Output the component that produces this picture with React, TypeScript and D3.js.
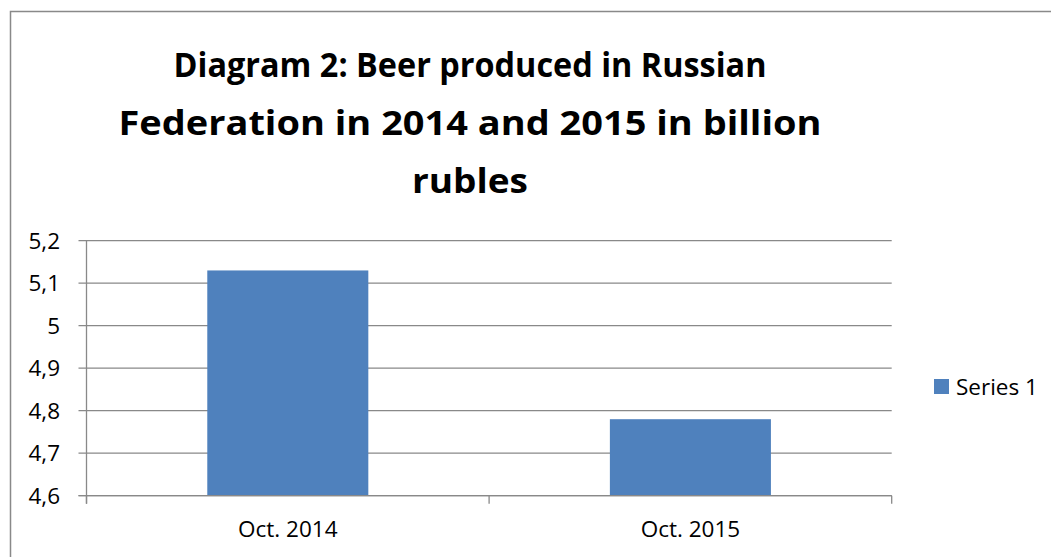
import React, { useEffect, useRef } from 'react';
import * as d3 from 'd3';

const categories = ['Oct. 2014', 'Oct. 2015'];
const values = [5.13, 4.78];
const yTicks = [4.6, 4.7, 4.8, 4.9, 5.0, 5.1, 5.2];
const titleLines = [
    'Diagram 2: Beer produced in Russian',
    'Federation in 2014 and 2015 in billion',
    'rubles'
];
const seriesName = 'Series 1';

const W = 1051;
const H = 557;

const App = () => {
    const ref = useRef<SVGSVGElement>(null);

    useEffect(() => {
        const svg = d3.select(ref.current);
        svg.selectAll('*').remove();

        const font = '"Open Sans", sans-serif';
        const grey = '#898989';

        // outer chart border (runs off the right and bottom edge)
        svg.append('rect')
            .attr('x', 10.5)
            .attr('y', 11.5)
            .attr('width', W + 20)
            .attr('height', H + 20)
            .attr('fill', 'none')
            .attr('stroke', grey)
            .attr('stroke-width', 1.5);

        // title
        const titleWidths = [593, 703, 116];
        svg.append('g')
            .selectAll('text')
            .data(titleLines)
            .enter().append('text')
            .attr('x', 470)
            .attr('y', (d, i) => 77 + i * 58)
            .attr('text-anchor', 'middle')
            .attr('font-family', font)
            .attr('font-weight', 'bold')
            .attr('font-size', 34)
            .attr('textLength', (d, i) => titleWidths[i])
            .attr('lengthAdjust', 'spacingAndGlyphs')
            .attr('fill', '#000')
            .text(d => d);

        const left = 86.5, right = 891.7, top = 240.7, bottom = 495.7;

        const x = d3.scaleBand()
            .domain(categories)
            .range([left, right])
            .paddingInner(0.6)
            .paddingOuter(0.3);

        const y = d3.scaleLinear()
            .domain([4.6, 5.2])
            .range([bottom, top]);

        const fmt = (v: number) => (Math.round(v * 10) / 10).toString().replace('.', ',');

        // gridlines + y ticks
        svg.append('g')
            .selectAll('line')
            .data(yTicks)
            .enter().append('line')
            .attr('x1', left - 8)
            .attr('x2', right)
            .attr('y1', d => y(d))
            .attr('y2', d => y(d))
            .attr('stroke', grey)
            .attr('stroke-width', 1.3);

        svg.append('g')
            .selectAll('text')
            .data(yTicks)
            .enter().append('text')
            .attr('x', 60)
            .attr('y', d => y(d) + 8)
            .attr('text-anchor', 'end')
            .attr('font-family', font)
            .attr('font-size', 22.5)
            .attr('fill', '#000')
            .text(d => fmt(d));

        // bars
        svg.append('g')
            .selectAll('rect')
            .data(values)
            .enter().append('rect')
            .attr('x', (d, i) => x(categories[i]) as number)
            .attr('y', d => y(d))
            .attr('width', x.bandwidth())
            .attr('height', d => y(4.6) - y(d))
            .attr('fill', '#4F81BD');

        // axes lines
        svg.append('line')
            .attr('x1', left).attr('x2', left)
            .attr('y1', top).attr('y2', bottom + 8)
            .attr('stroke', grey).attr('stroke-width', 1.3);
        svg.append('line')
            .attr('x1', left - 8).attr('x2', right)
            .attr('y1', bottom).attr('y2', bottom)
            .attr('stroke', grey).attr('stroke-width', 1.3);

        // category boundary ticks
        const boundaries = [left, ...categories.map(c => (x(c) as number) + x.bandwidth() + x.step() * 0.3)];
        svg.append('g')
            .selectAll('line')
            .data(boundaries)
            .enter().append('line')
            .attr('x1', d => d).attr('x2', d => d)
            .attr('y1', bottom).attr('y2', bottom + 8)
            .attr('stroke', grey).attr('stroke-width', 1.3);

        // x labels
        svg.append('g')
            .selectAll('text')
            .data(categories)
            .enter().append('text')
            .attr('x', d => (x(d) as number) + x.bandwidth() / 2)
            .attr('y', 537)
            .attr('text-anchor', 'middle')
            .attr('font-family', font)
            .attr('font-size', 22.5)
            .attr('fill', '#000')
            .text(d => d);

        // legend
        svg.append('rect')
            .attr('x', 934).attr('y', 379)
            .attr('width', 15).attr('height', 15)
            .attr('fill', '#4F81BD');
        svg.append('text')
            .attr('x', 956).attr('y', 395)
            .attr('font-family', font)
            .attr('font-size', 22.5)
            .attr('fill', '#000')
            .text(seriesName);
    }, []);

    return (
        <svg ref={ref} width={W} height={H}
            style={{ position: 'absolute', left: 0, top: 0, background: '#fff' }} />
    );
};

export default App;
